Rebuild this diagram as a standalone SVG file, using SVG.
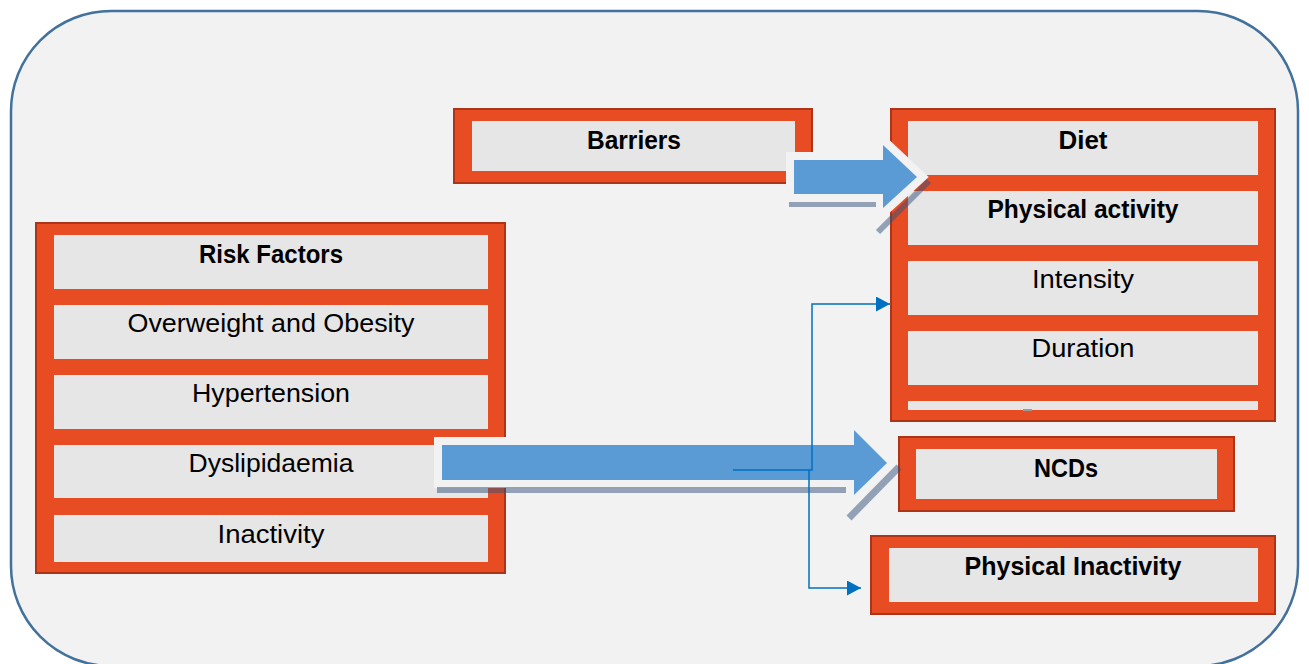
<svg xmlns="http://www.w3.org/2000/svg" width="1309" height="664" viewBox="0 0 1309 664">
<defs>
<style>
.frame{fill:#E84C22;stroke:#AC3519;stroke-width:2}
.cell{fill:#E6E6E6}
.t{font-family:"Liberation Sans",Arial,sans-serif;font-size:26px;fill:#000;text-anchor:middle}
.b{font-weight:bold}
.arrow{fill:#5B9BD5;stroke:#F2F2F2;stroke-width:16;stroke-linejoin:miter;paint-order:stroke}
.shadow{stroke:rgb(50,80,120);stroke-opacity:0.5;fill:none}
.conn{fill:none;stroke:#0070C0;stroke-width:1.5}
</style>
<marker id="ah" markerWidth="14" markerHeight="15" refX="14" refY="7.5" orient="auto" markerUnits="userSpaceOnUse">
<path d="M0,0 L14,7.5 L0,15 Z" fill="#0070C0"/>
</marker>
</defs>
<rect x="11" y="11" width="1287" height="655" rx="100" ry="100" fill="#F2F2F2" stroke="#41719C" stroke-width="2.5"/>

<g id="risk-factors">
<rect class="frame" x="36" y="223" width="469" height="350"/>
<rect class="cell" x="54" y="235" width="434" height="54"/>
<rect class="cell" x="54" y="305" width="434" height="54"/>
<rect class="cell" x="54" y="375" width="434" height="54"/>
<rect class="cell" x="54" y="445" width="434" height="53"/>
<rect class="cell" x="54" y="515" width="434" height="47"/>
<text class="t b" x="271" y="263" textLength="144" lengthAdjust="spacingAndGlyphs">Risk Factors</text>
<text class="t" x="271" y="332" textLength="287" lengthAdjust="spacingAndGlyphs">Overweight and Obesity</text>
<text class="t" x="271" y="402" textLength="158" lengthAdjust="spacingAndGlyphs">Hypertension</text>
<text class="t" x="271" y="472" textLength="165" lengthAdjust="spacingAndGlyphs">Dyslipidaemia</text>
<text class="t" x="271" y="543" textLength="107" lengthAdjust="spacingAndGlyphs">Inactivity</text>
</g>

<g id="barriers">
<rect class="frame" x="454" y="109" width="358" height="74"/>
<rect class="cell" x="472" y="121" width="323" height="50"/>
<text class="t b" x="634" y="149" textLength="94" lengthAdjust="spacingAndGlyphs">Barriers</text>
</g>

<g id="diet-activity">
<rect class="frame" x="891" y="109" width="384" height="312"/>
<rect class="cell" x="908" y="121" width="350" height="54"/>
<rect class="cell" x="908" y="191" width="350" height="54"/>
<rect class="cell" x="908" y="261" width="350" height="54"/>
<rect class="cell" x="908" y="331" width="350" height="54"/>
<rect class="cell" x="908" y="401" width="350" height="9"/>
<rect x="1023" y="409" width="9" height="2" fill="#9A9A9A"/>
<text class="t b" x="1083" y="149" textLength="49" lengthAdjust="spacingAndGlyphs">Diet</text>
<text class="t b" x="1083" y="218" textLength="191" lengthAdjust="spacingAndGlyphs">Physical activity</text>
<text class="t" x="1083" y="288" textLength="102" lengthAdjust="spacingAndGlyphs">Intensity</text>
<text class="t" x="1083" y="357" textLength="103" lengthAdjust="spacingAndGlyphs">Duration</text>
</g>

<g id="ncds">
<rect class="frame" x="899" y="437" width="335" height="74"/>
<rect class="cell" x="916" y="449" width="301" height="50"/>
<text class="t b" x="1066" y="477" textLength="64" lengthAdjust="spacingAndGlyphs">NCDs</text>
</g>

<g id="physical-inactivity">
<rect class="frame" x="871" y="536" width="404" height="78"/>
<rect class="cell" x="889" y="548" width="369" height="54"/>
<text class="t b" x="1073" y="575" textLength="217" lengthAdjust="spacingAndGlyphs">Physical Inactivity</text>
</g>

<g id="connectors">
<polygon class="arrow" points="794,160 883,160 883,145 917,177 883,208 883,194 794,194"/>
<line class="shadow" x1="789" y1="204.5" x2="876" y2="204.5" stroke-width="5"/>
<line class="shadow" x1="929" y1="181" x2="878" y2="232" stroke-width="6"/>
<polygon class="arrow" points="442,445 854,445 854,430 887,463 854,495 854,480 442,480"/>
<line class="shadow" x1="437" y1="490" x2="846" y2="490" stroke-width="6"/>
<line class="shadow" x1="899" y1="467" x2="849" y2="518" stroke-width="7"/>
<path class="conn" d="M733,470 H812 V304 H890" marker-end="url(#ah)"/>
<path class="conn" d="M809,470 V588 H861" marker-end="url(#ah)"/>
</g>
</svg>
